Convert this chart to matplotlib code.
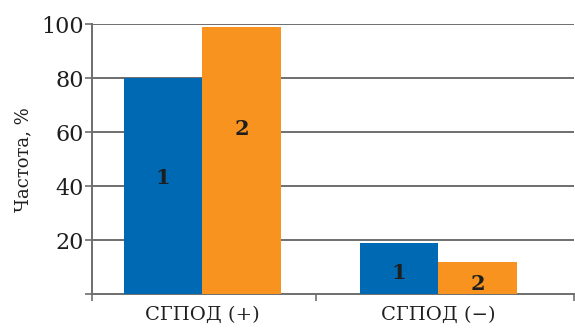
import numpy as np
import matplotlib
matplotlib.use("Agg")
import matplotlib.pyplot as plt

# Frequency (%) by group and series
categories = ["СГПОД (+)", "СГПОД (−)"]
series_1 = [80, 19]
series_2 = [99, 12]
series_names = ["1", "2"]
# heights at which the series numbers are written inside the bars
label_y_1 = [43, 8]
label_y_2 = [61, 4]

yticks = [20, 40, 60, 80, 100]

blue = "#0069B4"
orange = "#F7931E"
grid_col = "#6E6E6E"
text_col = "#1E1E1E"

plt.rcParams["font.family"] = ["DejaVu Serif"]

fig = plt.figure(figsize=(5.75, 3.30), dpi=100)
ax = fig.add_axes([0.16, 0.108, 0.838, 0.819])

x = np.arange(len(categories))
w = 0.333
ax.bar(x - w / 2, series_1, w, color=blue, zorder=3)
ax.bar(x + w / 2, series_2, w, color=orange, zorder=3)

for i in range(len(categories)):
    ax.text(x[i] - w / 2, label_y_1[i], series_names[0], ha="center", va="center",
            fontsize=15, fontweight="bold", color=text_col, zorder=4)
    ax.text(x[i] + w / 2, label_y_2[i], series_names[1], ha="center", va="center",
            fontsize=15, fontweight="bold", color=text_col, zorder=4)

ax.set_xlim(-0.468, 1.574)
ax.set_ylim(0, 100)

ax.set_yticks([0] + yticks)
ax.set_yticklabels([""] + [str(v) for v in yticks])
for v in yticks:
    ax.axhline(v, color=grid_col, lw=1.4, zorder=1)

ax.set_xticks(x)
ax.set_xticklabels(categories, fontsize=14)
ax.set_xticks([-0.468, 0.48, 1.574], minor=True)
ax.tick_params(axis="x", which="major", length=0, pad=8, colors=text_col)
ax.tick_params(axis="x", which="minor", length=5, width=1.2, color=grid_col)
ax.tick_params(axis="y", length=5, width=1.2, color=grid_col, pad=1,
               labelsize=16, labelcolor=text_col)

for side in ["top", "right"]:
    ax.spines[side].set_visible(False)
for side in ["left", "bottom"]:
    ax.spines[side].set_color(grid_col)
    ax.spines[side].set_linewidth(1.4)

ax.set_ylabel("Частота, %", fontsize=13, color=text_col, labelpad=6)

fig.savefig("out.png", dpi=100)
